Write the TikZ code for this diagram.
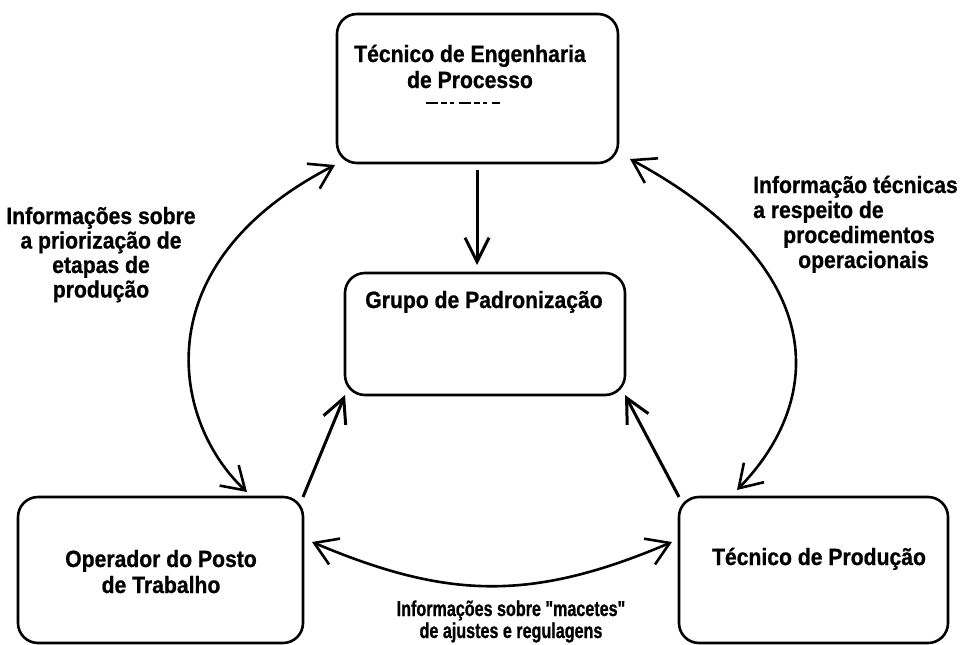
\documentclass[tikz,border=0pt]{standalone}
\usepackage{fontspec}
\usetikzlibrary{arrows.meta,calc}
\newfontfamily\boxfont{Liberation Sans Bold}[FakeStretch=0.9,FakeBold=0.8]
\newfontfamily\notefont{Liberation Sans Bold}[FakeStretch=0.75,FakeBold=0.8]
\begin{document}
\begin{tikzpicture}[x=1pt,y=-1pt,
  box/.style={draw,line width=2.6pt,rounded corners=20pt,inner sep=0pt,outer sep=0pt},
  txt/.style={font=\boxfont\fontsize{23.5}{25}\selectfont,inner sep=0pt,anchor=base,align=center},
  note/.style={font=\notefont\fontsize{21.5}{22}\selectfont,inner sep=0pt,anchor=base,align=center},
  flow/.style={line width=3pt,-{Straight Barb[length=24pt,width=24pt]}},
  swap/.style={line width=2.6pt,{Straight Barb[length=22pt,width=28pt]}-{Straight Barb[length=22pt,width=28pt]}}]
\useasboundingbox (0,0) rectangle (961,645);

% boxes
\node[box,minimum width=281pt,minimum height=149pt] (top) at (477.5,88.5) {};
\node[box,minimum width=280pt,minimum height=122pt] (mid) at (485,334) {};
\node[box,minimum width=285pt,minimum height=146pt] (bl) at (160.5,570) {};
\node[box,minimum width=269pt,minimum height=146pt] (br) at (813.5,570) {};

% box texts (base anchor = baseline of the last line)
\node[txt,font=\boxfont\fontsize{23.5}{26}\selectfont] (toptxt) at (470,88) {Técnico de Engenharia\\de Processo};
\draw[line width=1.6pt,dash pattern=on 12pt off 3pt on 6pt off 3pt on 4pt off 5pt] (426,103) -- (500,103);
\node[txt] (midtxt) at (484,308) {Grupo de Padronização};
\node[txt,font=\boxfont\fontsize{23.5}{26}\selectfont] (bltxt) at (161,593) {Operador do Posto\\de Trabalho};
\node[txt] (brtxt) at (819,565) {Técnico de Produção};

% side labels
\node[txt,font=\boxfont\fontsize{23.5}{24.5}\selectfont] (leftnote) at (101,297.5) {Informações sobre\\a priorização de\\etapas de\\produção};
\node[txt,anchor=base west,align=left] (rightnote) at (753,268)
  {Informação técnicas\\a respeito de\\\hspace*{30pt}procedimentos\\\hspace*{45pt}operacionais};
\node[note] (bottomnote) at (511,638) {Informações sobre "macetes"\\de ajustes e regulagens};

% straight flows into the standardisation group
\draw[flow,shorten <=7pt,shorten >=8pt] (top.south -| 477,0) -- (477,0 |- mid.north);
\draw[flow] (bl.north east) -- (mid.south west);
\draw[flow] (br.north west) -- (mid.south east);

% two-way information exchanges
\coordinate (l1) at ($(top.south west)+(-2,2)$);
\coordinate (l2) at ($(bl.north west)+(229,-5)$);
\draw[swap] (l1) .. controls (141,265) and (173,423) .. (l2);
\coordinate (r1) at ($(top.south east)+(12,-4)$);
\coordinate (r2) at ($(br.north west)+(58,-7)$);
\draw[swap] (r1) .. controls (828,266) and (827,397) .. (r2);
\coordinate (b1) at ($(bl.east)+(9,-28)$);
\coordinate (b2) at ($(br.west)+(-7,-28)$);
\draw[swap] (b1) .. controls (447,599) and (531,602) .. (b2);
\end{tikzpicture}
\end{document}
